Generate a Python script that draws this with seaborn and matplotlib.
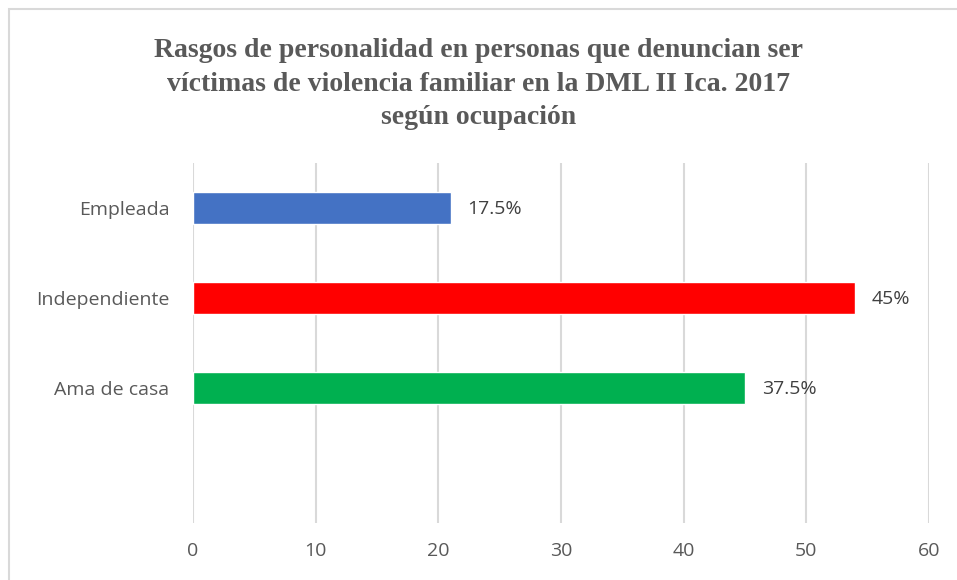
import matplotlib
matplotlib.use("Agg")
import matplotlib.pyplot as plt
import matplotlib.patches as patches
import seaborn as sns
import pandas as pd

# Data
categories = ["Empleada", "Independiente", "Ama de casa"]
values = [21, 54, 45]
value_labels = ["17.5%", "45%", "37.5%"]
colors = ["#4472C4", "#FF0000", "#00B050"]
xticks = [0, 10, 20, 30, 40, 50, 60]
title = ("Rasgos de personalidad en personas que denuncian ser\n"
         "víctimas de violencia familiar en la DML II Ica. 2017\n"
         "según ocupación")

sns.set_theme(style="white")
plt.rcParams['font.family'] = ['Open Sans', 'DejaVu Sans']

fig = plt.figure(figsize=(9.57, 5.8), dpi=100)
ax = fig.add_axes([193 / 957, 1 - 523 / 580, (929 - 193) / 957, (523 - 163) / 580])

df = pd.DataFrame({"cat": categories, "val": values})
sns.barplot(data=df, y="cat", x="val", hue="cat", order=categories,
            hue_order=categories, palette=colors, width=0.36,
            saturation=1, legend=False, ax=ax)

ax.set_ylim(3.5, -0.5)
ax.set_xlim(0, 60)
ax.set_xticks(xticks)
ax.set_xlabel("")
ax.set_ylabel("")
ax.grid(axis="x", color="#d9d9d9", linewidth=1.5)
ax.grid(axis="y", visible=False)
ax.set_axisbelow(True)
for s in ax.spines.values():
    s.set_visible(False)
ax.tick_params(axis="x", length=0, labelsize=14, colors="#595959", pad=14)
ax.tick_params(axis="y", length=0, labelsize=14, colors="#595959", pad=17)

for i, (v, lab) in enumerate(zip(values, value_labels)):
    ax.annotate(lab, xy=(v, i), xytext=(12, -1), textcoords="offset points",
                ha="left", va="center", fontsize=14, color="#404040")

fig.text(0.5, 1 - 84 / 580, title, ha="center", va="center",
         fontfamily="Liberation Serif", fontweight="bold", fontsize=20,
         color="#595959", linespacing=1.45)

border = patches.Rectangle((8.5 / 957, -0.05), 1.0, 1 - 8.5 / 580 + 0.05,
                           transform=fig.transFigure, fill=False,
                           edgecolor="#d9d9d9", linewidth=1.5)
fig.patches.append(border)

fig.savefig("out.png", dpi=100)
